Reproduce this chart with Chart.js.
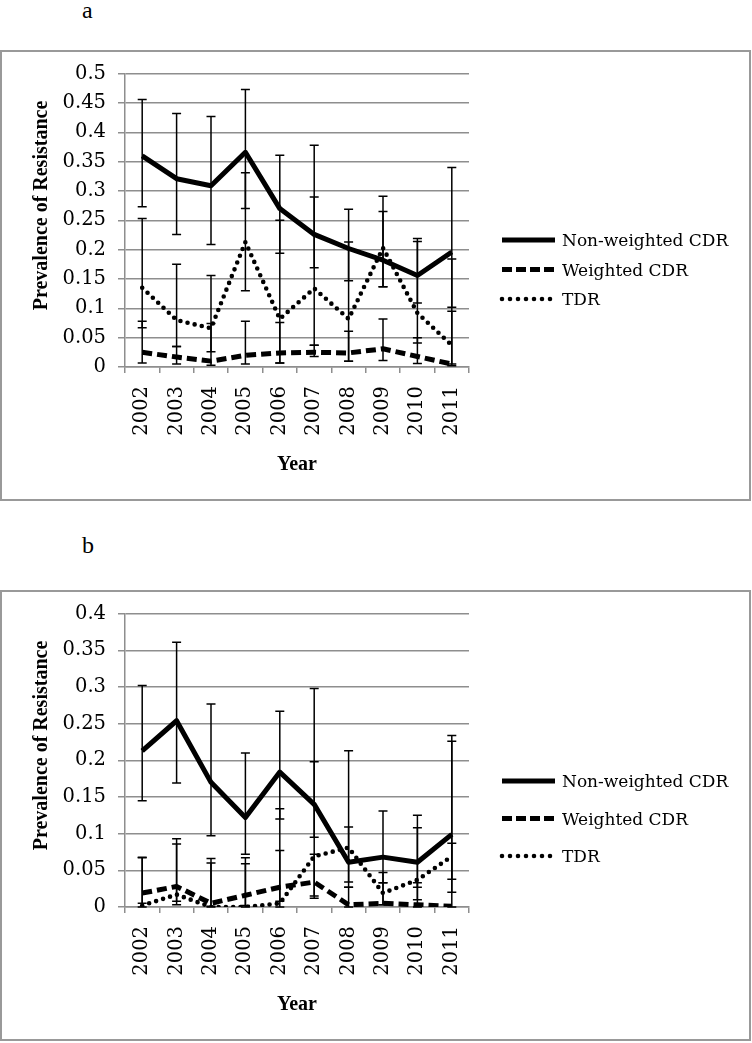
<!DOCTYPE html>
<html>
<head>
<meta charset="utf-8">
<script src="https://cdn.jsdelivr.net/npm/chart.js@4.4.1/dist/chart.umd.min.js"></script>
<style>
html,body{margin:0;padding:0;background:#fff;width:752px;height:1043px;overflow:hidden;position:relative;}
.box{position:absolute;left:0;width:751px;height:451px;box-sizing:border-box;border:2px solid #999;}
.lbl{position:absolute;left:82px;font:24px "Liberation Serif",serif;line-height:24px;color:#000;}
canvas{position:absolute;left:0;}
</style>
</head>
<body>
<div class="lbl" style="top:-2px">a</div>
<div class="box" style="top:50px"></div>
<canvas id="ca" width="752" height="451" style="top:50px;width:752px;height:451px"></canvas>
<div class="lbl" style="top:533px">b</div>
<div class="box" style="top:590px"></div>
<canvas id="cb" width="752" height="451" style="top:590px;width:752px;height:451px"></canvas>
<script>
// ---------- data ----------
const years = ['2002','2003','2004','2005','2006','2007','2008','2009','2010','2011'];
const seriesNames = ['Non-weighted CDR','Weighted CDR','TDR'];

// panel a
const yTicksA = ['0','0.05','0.1','0.15','0.2','0.25','0.3','0.35','0.4','0.45','0.5'];
const nwA    = [0.360,0.321,0.309,0.366,0.270,0.226,0.202,0.182,0.156,0.196];
const nwA_lo = [0.273,0.226,0.209,0.270,0.194,0.169,0.147,0.137,0.109,0.102];
const nwA_hi = [0.456,0.432,0.427,0.473,0.361,0.378,0.269,0.265,0.219,0.340];
const wA     = [0.025,0.017,0.010,0.020,0.024,0.025,0.024,0.031,0.018,0.005];
const wA_lo  = [0.007,0.005,0.003,0.005,0.007,0.018,0.010,0.011,0.006,0.002];
const wA_hi  = [0.078,0.035,0.074,0.078,0.076,0.037,0.061,0.082,0.050,0.095];
const tA     = [0.135,0.080,0.066,0.213,0.082,0.134,0.082,0.203,0.092,0.037];
const tA_lo  = [0.067,0.035,0.026,0.130,0.007,0.037,0.010,0.137,0.041,0.005];
const tA_hi  = [0.253,0.175,0.156,0.331,0.250,0.290,0.213,0.291,0.214,0.184];

// panel b
const yTicksB = ['0','0.05','0.1','0.15','0.2','0.25','0.3','0.35','0.4'];
const nwB    = [0.213,0.254,0.170,0.122,0.184,0.140,0.061,0.068,0.061,0.099];
const nwB_lo = [0.145,0.169,0.097,0.072,0.120,0.095,0.027,0.033,0.027,0.038];
const nwB_hi = [0.302,0.361,0.277,0.210,0.267,0.298,0.109,0.131,0.125,0.234];
const wB     = [0.019,0.028,0.005,0.016,0.027,0.034,0.003,0.005,0.003,0.001];
const wB_lo  = [0.005,0.008,0.001,0.002,0.008,0.012,0.000,0.003,0.000,0.000];
const wB_hi  = [0.068,0.093,0.066,0.067,0.077,0.072,0.027,0.033,0.033,0.087];
const tB     = [0.002,0.017,0.000,0.000,0.005,0.069,0.081,0.019,0.037,0.069];
const tB_lo  = [0.000,0.003,0.000,0.000,0.000,0.015,0.034,0.003,0.010,0.020];
const tB_hi  = [0.067,0.086,0.060,0.059,0.134,0.198,0.213,0.047,0.108,0.226];

const yTitle = 'Prevalence of Resistance';
const xTitle = 'Year';

// ---------- styling ----------
const GRID = '#8e8e8e';
const TICK_FONT = {family:'"DejaVu Serif", serif', size:19.5};
const styles = [
  {borderWidth:5, borderDash:[], borderCapStyle:'butt', legendDash:[]},
  {borderWidth:5, borderDash:[10,5], borderCapStyle:'butt', legendDash:[10,4]},
  {borderWidth:4.6, borderDash:[0,7.3], borderCapStyle:'round', legendDash:[0,8]}
];

const errorBarPlugin = {
  id:'errbars',
  afterDatasetsDraw(chart){
    const ctx = chart.ctx, xs = chart.scales.x, ys = chart.scales.y;
    ctx.save();
    ctx.strokeStyle = '#000';
    ctx.lineWidth = 1.5;
    ctx.setLineDash([]);
    chart.data.datasets.forEach(ds => {
      ds.errLo.forEach((lo, i) => {
        const x = xs.getPixelForValue(i);
        const y1 = ys.getPixelForValue(lo), y2 = ys.getPixelForValue(ds.errHi[i]);
        ctx.beginPath();
        ctx.moveTo(x, y1); ctx.lineTo(x, y2);
        ctx.moveTo(x-4.5, y1); ctx.lineTo(x+4.5, y1);
        ctx.moveTo(x-4.5, y2); ctx.lineTo(x+4.5, y2);
        ctx.stroke();
      });
    });
    ctx.restore();
  }
};

const decorPlugin = {
  id:'decor',
  afterDraw(chart, args, opts){
    const ctx = chart.ctx;
    ctx.save();
    // legend
    chart.data.datasets.forEach((ds, i) => {
      const y = opts.legendY + i*opts.legendGap;
      ctx.strokeStyle = '#000';
      ctx.lineWidth = ds.borderWidth;
      ctx.lineCap = ds.borderCapStyle;
      ctx.setLineDash(ds.legendDash);
      ctx.beginPath(); ctx.moveTo(502, y); ctx.lineTo(555, y); ctx.stroke();
      ctx.setLineDash([]);
      ctx.fillStyle = '#000';
      ctx.font = '17px "DejaVu Serif", serif';
      ctx.textAlign = 'left'; ctx.textBaseline = 'middle';
      ctx.fillText(ds.label, 562, y + 2);
    });
    // axis titles
    ctx.fillStyle = '#000';
    ctx.font = 'bold 20px "Liberation Serif", serif';
    ctx.textAlign = 'center'; ctx.textBaseline = 'middle';
    ctx.fillText(xTitle, (chart.chartArea.left + chart.chartArea.right)/2, 415);
    ctx.translate(41.5, 155.5);
    ctx.rotate(-Math.PI/2);
    ctx.fillText(yTitle, 0, 0);
    ctx.restore();
  }
};

function makeDatasets(vals, los, his){
  return vals.map((v, k) => Object.assign({
    label: seriesNames[k], data: v, errLo: los[k], errHi: his[k],
    borderColor:'#000', backgroundColor:'#000', pointRadius:0, pointHoverRadius:0,
    fill:false, tension:0, borderJoinStyle:'round'
  }, styles[k]));
}

function makeChart(id, datasets, yMax, yLabels, legendY, legendGap){
  return new Chart(document.getElementById(id), {
    type:'line',
    data:{labels:years, datasets},
    plugins:[errorBarPlugin, decorPlugin],
    options:{
      responsive:false, animation:false, devicePixelRatio:1,
      layout:{padding:{left:0, right:283, top:23.5, bottom:0}},
      plugins:{legend:{display:false}, tooltip:{enabled:false}, title:{display:false},
        decor:{legendY, legendGap}},
      scales:{
        x:{type:'category', offset:true,
          grid:{offset:true, drawOnChartArea:false, drawTicks:true, tickLength:6, color:GRID, lineWidth:1.5},
          border:{color:GRID, width:1.5},
          ticks:{minRotation:90, maxRotation:90, autoSkip:false, padding:13, color:'#000', font:TICK_FONT},
          afterFit(s){ s.height = 134; }
        },
        y:{min:0, max:yMax,
          grid:{color:GRID, lineWidth:1.5, tickLength:7},
          border:{color:GRID, width:1.5},
          ticks:{stepSize:0.05, padding:12, color:'#000', font:TICK_FONT,
            callback:(v, i) => yLabels[i]},
          afterFit(s){ s.width = 125; }
        }
      }
    }
  });
}

makeChart('ca', makeDatasets([nwA,wA,tA],[nwA_lo,wA_lo,tA_lo],[nwA_hi,wA_hi,tA_hi]), 0.5, yTicksA, 190, 29.5);
makeChart('cb', makeDatasets([nwB,wB,tB],[nwB_lo,wB_lo,tB_lo],[nwB_hi,wB_hi,tB_hi]), 0.4, yTicksB, 191, 37.5);
</script>
</body>
</html>
